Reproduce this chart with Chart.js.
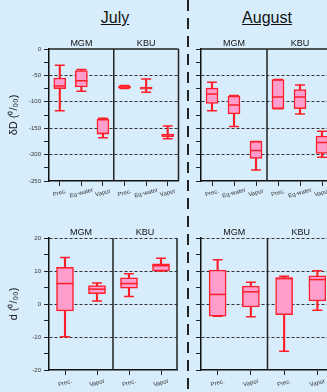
<!DOCTYPE html>
<html>
<head>
<meta charset="utf-8">
<script src="https://cdn.jsdelivr.net/npm/chart.js@4.4.1/dist/chart.umd.min.js"></script>
<style>
    body { margin: 0; width: 327px; height: 392px; overflow: hidden; position: relative; background: #d8edfb; font-family: 'Liberation Sans', Arial, sans-serif; }
    .month { position: absolute; top: 9px; font-size: 16px; color: #111; text-decoration: underline; transform: translateX(-50%); white-space: nowrap; }
    .panel { position: absolute; }
    .sep { position: absolute; left: 187px; top: 0; width: 1.5px; height: 392px; background: repeating-linear-gradient(to bottom, #222 0 11px, transparent 11px 18px); }
</style>
</head>
<body>
<div class="month" style="left:115px">July</div>
<div class="month" style="left:267px">August</div>
<div class="sep"></div>
<canvas id="julyD" class="panel" width="186" height="170" style="left:0;top:35px"></canvas>
<canvas id="augD" class="panel" width="160" height="170" style="left:188px;top:35px"></canvas>
<canvas id="julyEx" class="panel" width="187" height="167" style="left:0;top:225px"></canvas>
<canvas id="augEx" class="panel" width="160" height="167" style="left:188px;top:225px"></canvas>
<script>
const isoCats = ['Prec.', 'Eq-water', 'Vapor', 'Prec.', 'Eq-water', 'Vapor'];
const excessCats = ['Prec.', 'Vapor', 'Prec.', 'Vapor'];
const sites = ['MGM', 'KBU'];
const deltaTicks = [0, -50, -100, -150, -200, -250];
const excessTicks = [20, 10, 0, -10, -20];

// each entry: [min, q1, median, q3, max]
const julyDeltaD = [
    [-117, -75, -70, -55, -31],
    [-80, -72, -60, -41, -39],
    [-168, -161, -160, -133, -131],
    [-75, -74, -72, -70, -69],
    [-82, -76, -74, -72, -57],
    [-170, -166, -163, -161, -146]
];
const augustDeltaD = [
    [-117, -103, -85, -74, -63],
    [-147, -123, -106, -89, -88],
    [-229, -207, -192, -175, -175],
    [-113, -113, -91, -58, -58],
    [-123, -113, -91, -77, -68],
    [-205, -198, -177, -165, -156]
];
const julyExcess = [
    [-9.9, -2.1, 6.2, 11.1, 14.1],
    [0.9, 3.1, 4.5, 5.6, 6.4],
    [2.3, 4.8, 6.2, 7.9, 9.2],
    [10.0, 10.0, 11.6, 12.2, 13.9]
];
const augustExcess = [
    [-3.7, -3.7, 2.9, 10.3, 13.4],
    [-3.9, -0.9, 3.7, 5.4, 6.6],
    [-14.3, -3.2, 7.7, 8.0, 8.4],
    [-1.9, 0.9, 7.4, 8.5, 10.1]
];

const RED = '#ff1f2a';
const PINK = '#ff9dcc';

// draws the site split, site names, slanted category names and frame
const panelDecor = {
    id: 'panelDecor',
    afterDraw(chart, args, opts) {
        const ctx = chart.ctx;
        const area = chart.chartArea;
        const xs = chart.scales.x;
        const n = chart.data.labels.length;
        ctx.save();
        ctx.strokeStyle = '#222';
        ctx.lineWidth = 1.5;
        const mid = (xs.getPixelForValue(n / 2 - 1) + xs.getPixelForValue(n / 2)) / 2;
        ctx.beginPath();
        ctx.moveTo(mid, area.top);
        ctx.lineTo(mid, area.bottom);
        if (opts.topSolid) {
            ctx.moveTo(area.left, area.top);
            ctx.lineTo(area.right, area.top);
        }
        ctx.moveTo(area.right, area.top);
        ctx.lineTo(area.right, area.bottom);
        ctx.stroke();

        ctx.fillStyle = '#111';
        ctx.font = '9px "Liberation Sans", Arial, sans-serif';
        ctx.textAlign = 'center';
        ctx.textBaseline = 'alphabetic';
        ctx.fillText(sites[0], (area.left + mid) / 2, area.top - 3);
        ctx.fillText(sites[1], (mid + area.right) / 2, area.top - 3);

        ctx.fillStyle = '#333';
        ctx.font = '6px "Liberation Sans", Arial, sans-serif';
        ctx.textBaseline = 'middle';
        chart.data.labels.forEach((lbl, i) => {
            ctx.save();
            ctx.translate(xs.getPixelForValue(i), area.bottom + opts.labelGap);
            ctx.rotate(-15 * Math.PI / 180);
            ctx.fillText(lbl, 0, 0);
            ctx.restore();
        });
        ctx.restore();
    }
};

function makePanel(id, cats, stats, cfg) {
    const ctx = document.getElementById(id).getContext('2d');
    return new Chart(ctx, {
        type: 'bar',
        data: {
            labels: cats,
            datasets: [
                {
                    label: 'whisker',
                    data: stats.map(s => [s[0], s[4]]),
                    backgroundColor: RED,
                    barThickness: 1.5,
                    grouped: false,
                    order: 3
                },
                {
                    label: 'box',
                    data: stats.map(s => [s[1], s[3]]),
                    backgroundColor: PINK,
                    borderColor: RED,
                    borderWidth: 1.5,
                    borderSkipped: false,
                    barThickness: cfg.boxWidth,
                    grouped: false,
                    order: 2
                },
                {
                    type: 'line',
                    label: 'median',
                    data: stats.map(s => s[2]),
                    showLine: false,
                    pointStyle: 'line',
                    pointRadius: cfg.boxWidth / 2,
                    pointBorderColor: RED,
                    pointBorderWidth: 1.5,
                    order: 1
                },
                {
                    type: 'line',
                    label: 'max',
                    data: stats.map(s => s[4]),
                    showLine: false,
                    pointStyle: 'line',
                    pointRadius: cfg.capRadius,
                    pointBorderColor: RED,
                    pointBorderWidth: 1.5,
                    order: 1
                },
                {
                    type: 'line',
                    label: 'min',
                    data: stats.map(s => s[0]),
                    showLine: false,
                    pointStyle: 'line',
                    pointRadius: cfg.capRadius,
                    pointBorderColor: RED,
                    pointBorderWidth: 1.5,
                    order: 1
                }
            ]
        },
        options: {
            responsive: false,
            animation: false,
            events: [],
            layout: { padding: { top: cfg.padTop, right: cfg.padRight, left: 0, bottom: 0 } },
            plugins: {
                legend: { display: false },
                tooltip: { enabled: false },
                panelDecor: { topSolid: cfg.topSolid, labelGap: cfg.labelGap }
            },
            scales: {
                x: {
                    afterFit: s => { s.height = cfg.xHeight; },
                    grid: { offset: false, drawOnChartArea: false, tickLength: 5, tickColor: '#222', tickWidth: 1 },
                    border: { color: '#111', width: 1.5 },
                    ticks: { display: false }
                },
                y: {
                    min: cfg.min,
                    max: cfg.max,
                    afterFit: s => { s.width = cfg.yWidth; },
                    ticks: {
                        display: cfg.showLabels,
                        stepSize: cfg.step,
                        color: '#333',
                        padding: 3,
                        font: { size: 6, family: '"Liberation Sans", Arial, sans-serif' },
                        callback: v => cfg.major.includes(v) ? String(v) : ''
                    },
                    grid: {
                        color: c => {
                            const v = c.tick ? c.tick.value : null;
                            if (!cfg.major.includes(v) || v === cfg.min) return 'transparent';
                            if (v === cfg.max && cfg.topSolid) return 'transparent';
                            return '#333';
                        },
                        lineWidth: 1,
                        tickColor: '#222',
                        tickLength: 5,
                        tickBorderDash: [1, 0]
                    },
                    border: { color: '#111', width: 1.5, dash: [3, 2] },
                    title: {
                        display: !!cfg.title,
                        text: cfg.title || '',
                        color: '#111',
                        font: { size: 11, family: '"Liberation Sans", Arial, sans-serif' },
                        padding: { top: 7, bottom: 0 }
                    }
                }
            }
        },
        plugins: [panelDecor]
    });
}

const deltaCfg = { min: -250, max: 0, step: 25, major: deltaTicks, boxWidth: 12, capRadius: 5, topSolid: true, padTop: 14, xHeight: 24, labelGap: 12 };
const excessCfg = { min: -20, max: 20, step: 5, major: excessTicks, boxWidth: 17, capRadius: 5, topSolid: false, padTop: 13, xHeight: 22, labelGap: 13 };

makePanel('julyD', isoCats, julyDeltaD, Object.assign({}, deltaCfg, { yWidth: 49, padRight: 5, showLabels: true, title: 'δD (⁰/₀₀)' }));
makePanel('augD', isoCats, augustDeltaD, Object.assign({}, deltaCfg, { yWidth: 13, padRight: 15, showLabels: false }));
makePanel('julyEx', excessCats, julyExcess, Object.assign({}, excessCfg, { yWidth: 49, padRight: 5, showLabels: true, title: 'd (⁰/₀₀)' }));
makePanel('augEx', excessCats, augustExcess, Object.assign({}, excessCfg, { yWidth: 13, padRight: 14, showLabels: false }));
</script>
</body>
</html>
